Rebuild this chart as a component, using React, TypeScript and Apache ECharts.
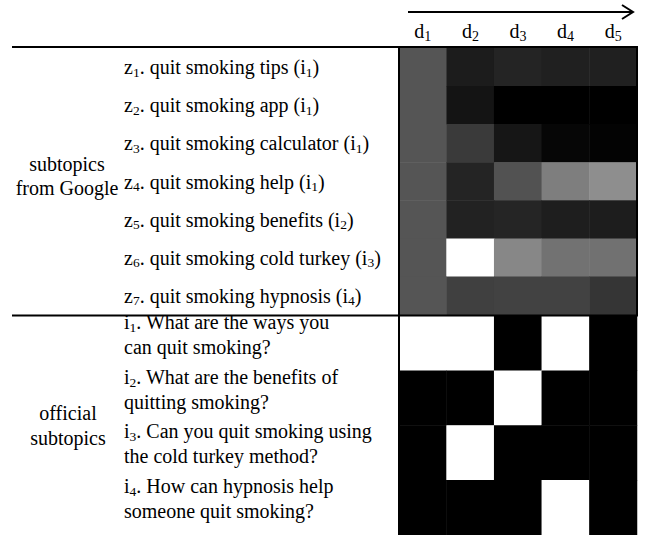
import React, { useEffect, useRef } from "react";
import * as echarts from "echarts";

// ---- data ----
const docNumbers = ["1", "2", "3", "4", "5"];
const googleNames = [
  "quit smoking tips",
  "quit smoking app",
  "quit smoking calculator",
  "quit smoking help",
  "quit smoking benefits",
  "quit smoking cold turkey",
  "quit smoking hypnosis",
];
const googleIntents = ["1", "1", "1", "1", "2", "3", "4"];
const officialLine1 = [
  "What are the ways you",
  "What are the benefits of",
  "Can you quit smoking using",
  "How can hypnosis help",
];
const officialLine2 = [
  "can quit smoking?",
  "quitting smoking?",
  "the cold turkey method?",
  "someone quit smoking?",
];
// gray level (0 black .. 255 white), rows z1..z7, columns d1..d5
const googleGray = [
  [85, 28, 36, 32, 32],
  [85, 20, 0, 0, 0],
  [85, 58, 22, 6, 3],
  [85, 36, 82, 126, 142],
  [85, 34, 37, 30, 29],
  [85, 255, 135, 114, 113],
  [85, 64, 66, 66, 53],
];
// relevance (255 = relevant/white), rows i1..i4, columns d1..d5
const officialGray = [
  [255, 255, 0, 255, 0],
  [0, 0, 255, 0, 0],
  [0, 255, 0, 0, 0],
  [0, 0, 0, 255, 0],
];

const FONT = "Liberation Serif";

export default function App() {
  const ref = useRef<HTMLDivElement>(null);
  useEffect(() => {
    if (!ref.current) return;
    const chart = echarts.init(ref.current, null, { renderer: "svg" });

    const topData: number[][] = [];
    googleGray.forEach((row, r) =>
      row.forEach((v, c) => topData.push([c, r, v]))
    );
    const botData: number[][] = [];
    officialGray.forEach((row, r) =>
      row.forEach((v, c) => botData.push([c, r, v]))
    );

    const zIds = googleNames.map((_, i) => "z" + (i + 1));
    const iIds = officialLine1.map((_, i) => "i" + (i + 1));

    const richTop = {
      n: { fontSize: 20, fontFamily: FONT, color: "#000", lineHeight: 24 },
      s: {
        fontSize: 13.5,
        fontFamily: FONT,
        color: "#000",
        lineHeight: 14,
        verticalAlign: "bottom",
      },
    };
    const richBot = {
      n: { fontSize: 20, fontFamily: FONT, color: "#000", lineHeight: 25 },
      s: {
        fontSize: 13.5,
        fontFamily: FONT,
        color: "#000",
        lineHeight: 15,
        verticalAlign: "bottom",
      },
    };
    const richD = {
      n: { fontSize: 20, fontFamily: FONT, color: "#000", lineHeight: 24 },
      s: {
        fontSize: 14,
        fontFamily: FONT,
        color: "#000",
        lineHeight: 14,
        verticalAlign: "bottom",
      },
    };

    const option: any = {
      animation: false,
      backgroundColor: "#fff",
      textStyle: { fontFamily: FONT },
      grid: [
        { left: 399, top: 48, width: 238, height: 267 },
        { left: 399, top: 316, width: 238, height: 219 },
      ],
      xAxis: [
        {
          type: "category",
          gridIndex: 0,
          position: "top",
          data: docNumbers,
          axisLine: { show: false },
          axisTick: { show: false },
          splitLine: { show: false },
          axisLabel: {
            interval: 0,
            margin: 5,
            fontFamily: FONT,
            formatter: (v: string) => `{n|d}{s|${v}}`,
            rich: richD,
          },
        },
        {
          type: "category",
          gridIndex: 1,
          data: docNumbers,
          show: false,
        },
      ],
      yAxis: [
        {
          type: "category",
          gridIndex: 0,
          inverse: true,
          data: zIds,
          axisLine: { show: false },
          axisTick: { show: false },
          splitLine: { show: false },
          axisLabel: {
            interval: 0,
            align: "left",
            margin: 275,
            fontFamily: FONT,
            formatter: (_v: string, i: number) =>
              `{n|z}{s|${i + 1}}{n|. ${googleNames[i]} (i}{s|${googleIntents[i]}}{n|)}`,
            rich: richTop,
          },
        },
        {
          type: "category",
          gridIndex: 1,
          inverse: true,
          data: iIds,
          axisLine: { show: false },
          axisTick: { show: false },
          splitLine: { show: false },
          axisLabel: {
            interval: 0,
            align: "left",
            margin: 275,
            padding: [0, 0, 18, 0],
            fontFamily: FONT,
            formatter: (_v: string, i: number) =>
              `{n|i}{s|${i + 1}}{n|. ${officialLine1[i]}}\n{n|${officialLine2[i]}}`,
            rich: richBot,
          },
        },
      ],
      visualMap: {
        show: false,
        type: "continuous",
        min: 0,
        max: 255,
        seriesIndex: [0, 1],
        inRange: { color: ["#000000", "#ffffff"] },
      },
      series: [
        {
          type: "heatmap",
          xAxisIndex: 0,
          yAxisIndex: 0,
          data: topData,
          itemStyle: { borderWidth: 0 },
          emphasis: { disabled: true },
        },
        {
          type: "heatmap",
          xAxisIndex: 1,
          yAxisIndex: 1,
          data: botData,
          itemStyle: { borderWidth: 0 },
          emphasis: { disabled: true },
        },
      ],
      graphic: [
        {
          type: "line",
          z: 100,
          shape: { x1: 408, y1: 12, x2: 632, y2: 12 },
          style: { stroke: "#000", lineWidth: 2 },
        },
        {
          type: "polyline",
          z: 100,
          shape: { points: [[622, 5], [633, 12], [622, 19]] },
          style: { stroke: "#000", lineWidth: 2, fill: null },
        },
        {
          type: "line",
          z: 100,
          shape: { x1: 12, y1: 47, x2: 399, y2: 47 },
          style: { stroke: "#000", lineWidth: 2 },
        },
        {
          type: "line",
          z: 100,
          shape: { x1: 12, y1: 315.5, x2: 399, y2: 315.5 },
          style: { stroke: "#000", lineWidth: 2 },
        },
        {
          type: "rect",
          z: 100,
          shape: { x: 399, y: 47, width: 238, height: 268.5 },
          style: { stroke: "#000", lineWidth: 2, fill: null },
        },
        {
          type: "line",
          z: 100,
          shape: { x1: 399, y1: 47, x2: 399, y2: 535 },
          style: { stroke: "#000", lineWidth: 2 },
        },
        {
          type: "text",
          z: 100,
          x: 67,
          y: 176,
          style: {
            text: "subtopics\nfrom Google",
            fontSize: 20,
            fontFamily: FONT,
            fill: "#000",
            align: "center",
            verticalAlign: "middle",
            lineHeight: 24,
          },
        },
        {
          type: "text",
          z: 100,
          x: 68,
          y: 425,
          style: {
            text: "official\nsubtopics",
            fontSize: 20,
            fontFamily: FONT,
            fill: "#000",
            align: "center",
            verticalAlign: "middle",
            lineHeight: 25,
          },
        },
      ],
    };
    chart.setOption(option);
    return () => chart.dispose();
  }, []);
  return (
    <div
      ref={ref}
      style={{ position: "absolute", left: 0, top: 0, width: 651, height: 535 }}
    />
  );
}
